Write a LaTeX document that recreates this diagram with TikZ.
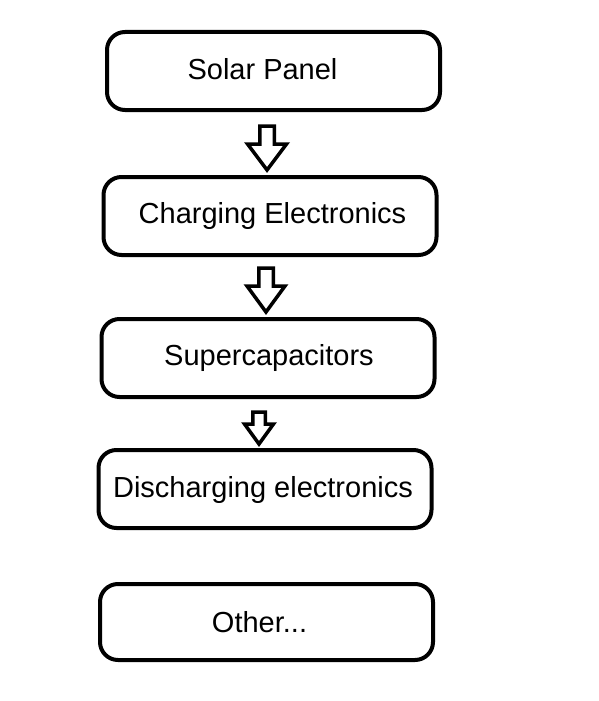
\documentclass[tikz,border=0pt]{standalone}
\usepackage{fontspec}
\setmainfont{Liberation Sans}
\usetikzlibrary{calc}

\tikzset{
    stage/.style={draw, line width=4pt, rounded corners=18pt, minimum width=333pt, minimum height=78pt, inner sep=0pt},
    stagetext/.style={anchor=base, inner sep=0pt, font=\fontsize{29}{34}\selectfont},
    hollow/.style={draw, line width=3.5pt, fill=white, line join=miter}
}

% #1 from, #2 to, #3 x, #4 top gap, #5 tip gap, #6 half shaft, #7 half head, #8 head length
\newcommand{\hollowarrow}[8]{%
    \coordinate (ax) at (#3,0);
    \coordinate (top) at ([yshift=-#4pt]ax |- #1.south);
    \coordinate (tip) at ([yshift=#5pt]ax |- #2.north);
    \draw[hollow] ([xshift=-#6pt]top) -- ([xshift=#6pt]top)
        -- ([xshift=#6pt,yshift=#8pt]tip) -- ([xshift=#7pt,yshift=#8pt]tip)
        -- (tip) -- ([xshift=-#7pt,yshift=#8pt]tip)
        -- ([xshift=-#6pt,yshift=#8pt]tip) -- cycle;}

\begin{document}
\begin{tikzpicture}[x=1pt, y=-1pt]
        \useasboundingbox (0,0) rectangle (598,701);

        \node[stage] (panel) at (273.5,71) {};
        \node[stage] (charge) at (270,216) {};
        \node[stage] (supercap) at (268,358) {};
        \node[stage] (discharge) at (265,489) {};
        \node[stage, minimum height=76pt] (other) at (266.5,622) {};

        \node[stagetext] (paneltext) at ([xshift=-11pt,yshift=-8pt]panel.center) {Solar Panel};
        \node[stagetext] (chargetext) at ([xshift=2.5pt,yshift=-7pt]charge.center) {Charging Electronics};
        \node[stagetext] (supercaptext) at ([xshift=1pt,yshift=-7pt]supercap.center) {Supercapacitors};
        \node[stagetext] (dischargetext) at ([xshift=-2pt,yshift=-8pt]discharge.center) {Discharging electronics};
        \node[stagetext] (othertext) at ([xshift=-7pt,yshift=-10pt]other.center) {Other...};

        \hollowarrow{panel}{charge}{267}{14}{5}{7.25}{19.5}{26}
        \hollowarrow{charge}{supercap}{266}{11}{5}{7.25}{19}{26}
        \hollowarrow{supercap}{discharge}{259}{13}{4}{6.25}{14.5}{20}
    \end{tikzpicture}
\end{document}
